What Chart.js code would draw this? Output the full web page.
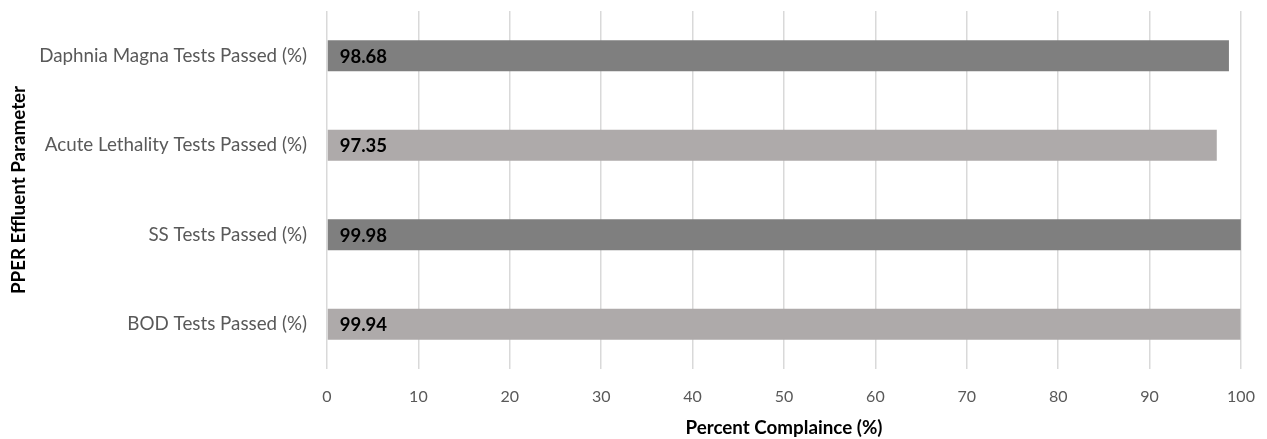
<!DOCTYPE html>
<html>
<head>
<meta charset="utf-8">
<script src="https://cdn.jsdelivr.net/npm/chart.js"></script>
<style>
  body { margin: 0; background: #fff; }
  #wrap { width: 1267px; height: 439px; }
</style>
</head>
<body>
<div id="wrap"><canvas id="myChart"></canvas></div>
<script>
const categorias = [
  "Daphnia Magna Tests Passed (%)",
  "Acute Lethality Tests Passed (%)",
  "SS Tests Passed (%)",
  "BOD Tests Passed (%)"
];
const valores = [98.68, 97.35, 99.98, 99.94];
const colores = ["#7f7f7f", "#aeaaaa", "#7f7f7f", "#aeaaaa"];
const tituloX = "Percent Complaince (%)";
const tituloY = "PPER Effluent Parameter";

const fuente = "Lato, 'Open Sans', sans-serif";

// etiquetas dentro de la barra, al inicio
const etiquetasBarras = {
  id: "etiquetasBarras",
  afterDatasetsDraw(chart) {
    const ctx = chart.ctx;
    const meta = chart.getDatasetMeta(0);
    ctx.save();
    ctx.font = "bold 18.5px " + fuente;
    ctx.fillStyle = "#000";
    ctx.textBaseline = "middle";
    ctx.textAlign = "left";
    meta.data.forEach((bar, i) => {
      ctx.fillText(valores[i].toFixed(2), bar.base + 12, bar.y + 1);
    });
    ctx.restore();
  }
};

const config = {
  type: "bar",
  data: {
    labels: categorias,
    datasets: [
      {
        data: valores,
        backgroundColor: colores,
        categoryPercentage: 1,
        barPercentage: 0.346
      }
    ]
  },
  options: {
    indexAxis: "y",
    responsive: true,
    maintainAspectRatio: false,
    animation: false,
    layout: { padding: { top: 11, right: 26, left: 0, bottom: 0 } },
    plugins: {
      legend: { display: false },
      tooltip: { enabled: false }
    },
    scales: {
      x: {
        min: 0,
        max: 100,
        ticks: {
          stepSize: 10,
          padding: 18,
          color: "#595959",
          font: { family: fuente, size: 16 }
        },
        grid: { color: "#d9d9d9", lineWidth: 1.5, drawTicks: false },
        border: { display: false },
        title: {
          display: true,
          text: tituloX,
          color: "#000",
          font: { family: fuente, size: 18.8, weight: "bold" },
          padding: { top: 0, bottom: 0 }
        },
        afterFit(scale) {
          scale.height = 70;
          scale.paddingLeft = 0;
          scale.paddingRight = 0;
        }
      },
      y: {
        ticks: {
          padding: 12,
          color: "#595959",
          font: { family: fuente, size: 18.8 }
        },
        grid: { display: false },
        border: { display: false },
        title: {
          display: true,
          text: tituloY,
          color: "#000",
          font: { family: fuente, size: 18.8, weight: "bold" },
          padding: { top: 8, bottom: 0 }
        },
        afterFit(scale) {
          scale.width = 327;
          scale.paddingTop = 0;
          scale.paddingBottom = 0;
        }
      }
    }
  },
  plugins: [etiquetasBarras]
};

new Chart(document.getElementById("myChart"), config);
</script>
</body>
</html>
